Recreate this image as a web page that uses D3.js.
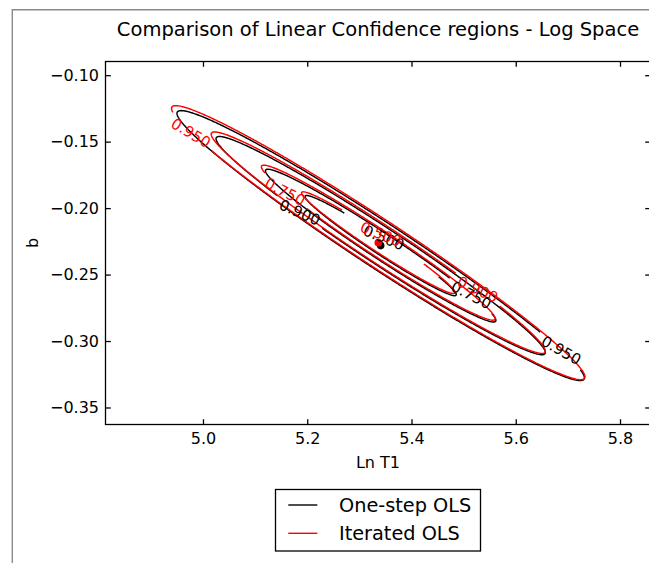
<!DOCTYPE html>
<html>
<head>
<meta charset="utf-8">
<script src="https://cdn.jsdelivr.net/npm/d3@7"></script>
<style>
  html, body { margin: 0; padding: 0; background: #fff; }
  svg { display: block; font-family: "DejaVu Sans", sans-serif; }
</style>
</head>
<body>
<svg id="chart" width="649" height="563"></svg>
<script>
// ---- estimates of (ln T1, b) for each fitting method ----
const methods = ["One-step OLS", "Iterated OLS"];
const methodColors = ["#000000", "#ff0000"];
const estLnT1 = [5.3409, 5.3363];
const estB = [-0.2282, -0.2260];
const sdLnT1 = [0.1149, 0.1166];
const sdB = [0.02986, 0.03031];
const corrLnT1B = [-0.9795, -0.9795];
const residualDf = 5;

// confidence levels drawn as contours
const confLevels = [0.5, 0.75, 0.9, 0.95];

// where each contour label sits, as [ln T1, b], one per level
const labelAtOneStep = [[5.3524, -0.2189], [5.5218, -0.2621], [5.1798, -0.2064], [5.6960, -0.3030]];
const labelAtIterated = [[5.3453, -0.2170], [5.1541, -0.1893], [5.5347, -0.2572], [4.9718, -0.1455]];

// axes
const xTicks = [5.0, 5.2, 5.4, 5.6, 5.8];
const yTicks = [-0.35, -0.30, -0.25, -0.20, -0.15, -0.10];
const xLimits = [4.813, 5.8585];
const yLimits = [-0.3628, -0.0897];

const titleText = "Comparison of Linear Confidence regions - Log Space";
const xLabel = "Ln T1";
const yLabel = "b";

// ---- layout ----
const plot = { left: 105.5, right: 650.5, top: 61.5, bottom: 424.5 };
const svg = d3.select("#chart");

const x = d3.scaleLinear().domain(xLimits).range([plot.left, plot.right]);
const y = d3.scaleLinear().domain(yLimits).range([plot.bottom, plot.top]);

// outer figure frame
svg.append("path")
  .attr("d", "M12.3,563 L12.3,9.7 L649,9.7")
  .attr("fill", "none").attr("stroke", "#8a8a8a").attr("stroke-width", 1.4);

svg.append("text")
  .attr("x", (plot.left + plot.right) / 2).attr("y", 35.5)
  .attr("text-anchor", "middle").attr("font-size", 19.5)
  .text(titleText);

// ---- contour field: tail probability of the F(2, df) statistic ----
const nx = 440, ny = 320;
const gdx = (xLimits[1] - xLimits[0]) / (nx - 1);
const gdy = (yLimits[1] - yLimits[0]) / (ny - 1);

function tailField(k) {
  const vals = new Float64Array(nx * ny);
  const r = corrLnT1B[k];
  for (let j = 0; j < ny; j++) {
    const yv = yLimits[1] - j * gdy;
    const zy = (yv - estB[k]) / sdB[k];
    for (let i = 0; i < nx; i++) {
      const xv = xLimits[0] + i * gdx;
      const zx = (xv - estLnT1[k]) / sdLnT1[k];
      const m = (zx * zx - 2 * r * zx * zy + zy * zy) / (1 - r * r);
      vals[j * nx + i] = Math.pow(1 + m / residualDf, -residualDf / 2);
    }
  }
  return vals;
}

const toPx = p => [x(xLimits[0] + (p[0] - 0.5) * gdx), y(yLimits[1] - (p[1] - 0.5) * gdy)];

// ---- contour label styling ----
const labelFontSize = 15;
const labelSlopeScale = 0.62;          // labels lean less steeply than the line
const labelPadDefault = 6;
// extra clearance [towards upper-left, towards lower-right] for the innermost labels
const innerGap = [[25, 46], [24, 31]];

const probe = svg.append("text").attr("font-size", labelFontSize).attr("visibility", "hidden");
function textWidth(s) { probe.text(s); return probe.node().getComputedTextLength(); }

// arc-length helpers for a closed ring
function ringInfo(pts) {
  const cum = [0];
  for (let i = 1; i < pts.length; i++) {
    cum.push(cum[i - 1] + Math.hypot(pts[i][0] - pts[i - 1][0], pts[i][1] - pts[i - 1][1]));
  }
  return { pts, cum, L: cum[cum.length - 1] };
}
function pointAt(info, s) {
  const { pts, cum, L } = info;
  s = ((s % L) + L) % L;
  let i = d3.bisectRight(cum, s) - 1;
  if (i < 0) i = 0;
  if (i >= pts.length - 1) i = pts.length - 2;
  const seg = cum[i + 1] - cum[i] || 1;
  const t = (s - cum[i]) / seg;
  return [pts[i][0] + t * (pts[i + 1][0] - pts[i][0]), pts[i][1] + t * (pts[i + 1][1] - pts[i][1])];
}
function closestArc(info, q) {
  const { pts, cum } = info;
  let best = Infinity, bestS = 0;
  for (let i = 0; i < pts.length - 1; i++) {
    const ax = pts[i][0], ay = pts[i][1];
    const vx = pts[i + 1][0] - ax, vy = pts[i + 1][1] - ay;
    const len2 = vx * vx + vy * vy || 1;
    let t = ((q[0] - ax) * vx + (q[1] - ay) * vy) / len2;
    t = Math.max(0, Math.min(1, t));
    const d = (ax + t * vx - q[0]) ** 2 + (ay + t * vy - q[1]) ** 2;
    if (d < best) { best = d; bestS = cum[i] + t * (cum[i + 1] - cum[i]); }
  }
  return bestS;
}
// open path going round the ring from arc a to arc b (b > a)
function arcPath(info, a, b) {
  const { pts, cum, L } = info;
  const keep = [];
  for (let i = 0; i < pts.length - 1; i++) {
    let t = cum[i];
    while (t < a) t += L;
    if (t < b) keep.push([t, pts[i]]);
  }
  keep.sort((p, q) => p[0] - q[0]);
  return [pointAt(info, a), ...keep.map(d => d[1]), pointAt(info, b)];
}

const lineGen = d3.line();
const linesLayer = svg.append("g");
const dotsLayer = svg.append("g");
const labelsLayer = svg.append("g");
const labelAt = [labelAtOneStep, labelAtIterated];

methods.forEach((name, k) => {
  const field = tailField(k);
  const contours = d3.contours()
    .size([nx, ny])
    .thresholds(confLevels.map(p => 1 - p))(field);

  contours.forEach(c => {
    // thresholds come back sorted, so recover the level from the value
    const li = d3.minIndex(confLevels, p => Math.abs(1 - p - c.value));
    const txt = d3.format(".3f")(confLevels[li]);
    const w = textWidth(txt);
    const anchor = [x(labelAt[k][li][0]), y(labelAt[k][li][1])];
    c.coordinates.forEach(poly => poly.forEach(ring => {
      const info = ringInfo(ring.map(toPx));
      const s0 = closestArc(info, anchor);
      const c0 = pointAt(info, s0);
      const pA = pointAt(info, s0 - w / 2), pB = pointAt(info, s0 + w / 2);
      let ang = Math.atan2(labelSlopeScale * (pB[1] - pA[1]), pB[0] - pA[0]) * 180 / Math.PI;
      if (ang > 90) ang -= 180;
      if (ang < -90) ang += 180;

      // clearance on each side of the label, along the line
      let padL = labelPadDefault, padR = labelPadDefault;
      if (li === 0) { padL = innerGap[k][0]; padR = innerGap[k][1]; }
      const forwardIsRight = pB[0] > pA[0];
      const gapAfter = w / 2 + (forwardIsRight ? padR : padL);
      const gapBefore = w / 2 + (forwardIsRight ? padL : padR);

      linesLayer.append("path")
        .attr("d", lineGen(arcPath(info, s0 + gapAfter, s0 - gapBefore + info.L)))
        .attr("fill", "none")
        .attr("stroke", methodColors[k])
        .attr("stroke-width", 1.45);
      labelsLayer.append("text")
        .attr("transform", `translate(${c0[0]},${c0[1]}) rotate(${ang})`)
        .attr("text-anchor", "middle")
        .attr("dy", "0.36em")
        .attr("font-size", labelFontSize)
        .attr("fill", methodColors[k])
        .text(txt);
    }));
  });

  dotsLayer.append("circle")
    .attr("cx", x(estLnT1[k])).attr("cy", y(estB[k]))
    .attr("r", 3.8).attr("fill", methodColors[k]);
});
probe.remove();

// ---- spines and ticks (inward, on all four sides) ----
const tick = 5.3;
const styleAxis = g => {
  g.select(".domain").remove();
  g.selectAll("line").attr("stroke", "#000").attr("stroke-width", 1.3);
  g.selectAll("text").attr("font-size", 16).attr("font-family", "DejaVu Sans, sans-serif").attr("fill", "#000");
};
svg.append("g").attr("transform", `translate(0,${plot.bottom})`)
  .call(d3.axisBottom(x).tickValues(xTicks).tickFormat(d3.format(".1f"))
    .tickSizeInner(-tick).tickSizeOuter(0).tickPadding(8.6))
  .call(styleAxis);
svg.append("g").attr("transform", `translate(0,${plot.top})`)
  .call(d3.axisTop(x).tickValues(xTicks).tickFormat("")
    .tickSizeInner(-tick).tickSizeOuter(0))
  .call(styleAxis);
svg.append("g").attr("transform", `translate(${plot.left},0)`)
  .call(d3.axisLeft(y).tickValues(yTicks).tickFormat(d3.format(".2f"))
    .tickSizeInner(-tick).tickSizeOuter(0).tickPadding(6.5))
  .call(styleAxis);
svg.append("g").attr("transform", `translate(${plot.right},0)`)
  .call(d3.axisRight(y).tickValues(yTicks).tickFormat("")
    .tickSizeInner(-tick).tickSizeOuter(0))
  .call(styleAxis);

svg.append("rect")
  .attr("x", plot.left).attr("y", plot.top)
  .attr("width", plot.right - plot.left).attr("height", plot.bottom - plot.top)
  .attr("fill", "none").attr("stroke", "#000").attr("stroke-width", 1.3);

svg.append("text")
  .attr("x", (plot.left + plot.right) / 2).attr("y", 468)
  .attr("text-anchor", "middle").attr("font-size", 16)
  .text(xLabel);
svg.append("text")
  .attr("transform", "translate(38,243) rotate(-90)")
  .attr("text-anchor", "middle").attr("font-size", 16)
  .text(yLabel);

// ---- legend ----
const legend = svg.append("g");
legend.append("rect")
  .attr("x", 275.5).attr("y", 489.5).attr("width", 205).attr("height", 61.5)
  .attr("fill", "#fff").attr("stroke", "#000").attr("stroke-width", 1.3);
const legendRowY = [505, 533.3];
methods.forEach((name, k) => {
  legend.append("line")
    .attr("x1", 288.3).attr("x2", 317.3)
    .attr("y1", legendRowY[k]).attr("y2", legendRowY[k])
    .attr("stroke", methodColors[k]).attr("stroke-width", 1.4);
  legend.append("text")
    .attr("x", 339).attr("y", legendRowY[k] + 6.8)
    .attr("font-size", 19.3)
    .text(name);
});
</script>
</body>
</html>
